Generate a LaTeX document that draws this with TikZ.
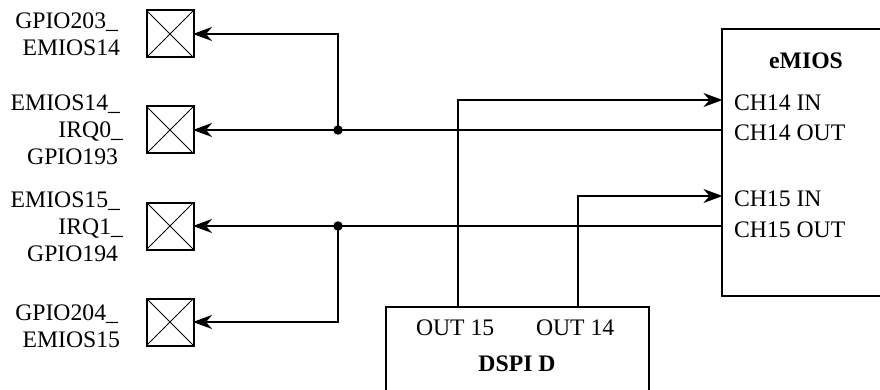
\documentclass[tikz,border=0pt]{standalone}
\usepackage{fontspec}
\setmainfont{Liberation Serif}
\usetikzlibrary{arrows.meta}
\tikzset{
  x=1pt,y=-1pt,
  lbl/.style={inner sep=0pt,outer sep=0pt,font=\fontsize{23.7}{27}\selectfont},
  pinlbl/.style={lbl,align=right,anchor=base east},
  txt/.style={lbl,anchor=base west},
  head/.style={lbl,anchor=base,font=\fontsize{23.7}{27}\selectfont\bfseries},
  pad/.style={draw,line width=2pt,minimum size=47pt,inner sep=0pt,outer sep=0pt,
    path picture={\draw[line width=1pt] (path picture bounding box.north west)--(path picture bounding box.south east)
      (path picture bounding box.north east)--(path picture bounding box.south west);}},
  block/.style={draw,line width=2pt,inner sep=0pt,outer sep=0pt},
  conn/.style={line width=2pt},
  arr/.style={conn,-{Stealth[length=19pt,width=14pt,inset=6pt]},shorten >=-0.5pt},
  dot/.style={circle,fill=black,draw=none,minimum size=9.5pt,inner sep=0pt,outer sep=0pt}
}
\begin{document}
\begin{tikzpicture}
\clip (0,0) rectangle (880,390);
\node[pad] (p1) at (170,34) {};
\node[pad] (p2) at (170,130) {};
\node[pad] (p3) at (170,226) {};
\node[pad] (p4) at (170,322) {};
\node[block,minimum width=186pt,minimum height=267pt] (emios) at (815,162.5) {};
\node[block,minimum width=263pt,minimum height=120pt] (dspi) at (517.5,367) {};
\node[dot] (j1) at (338,130) {};
\node[dot] (j2) at (338,226) {};
\coordinate (i14) at (722,100);
\coordinate (i15) at (722,196);
\coordinate (o15) at (458,307);
\coordinate (o14) at (578,307);
\draw[conn] (emios.west |- j1) -- (j1.center);
\draw[conn] (emios.west |- j2) -- (j2.center);
\draw[arr] (j1.center) -- (p2.east);
\draw[arr] (j2.center) -- (p3.east);
\draw[arr] (j1.center) -- (j1 |- p1) -- (p1.east);
\draw[arr] (j2.center) -- (j2 |- p4) -- (p4.east);
\draw[arr] (o15) -- (o15 |- i14) -- (i14);
\draw[arr] (o14) -- (o14 |- i15) -- (i15);
\node[pinlbl] (l1) at (120,56) {GPIO203\_\kern2pt\null\\EMIOS14};
\node[pinlbl] (l2) at (123,165) {EMIOS14\_\kern3pt\null\\IRQ0\_\\GPIO193\kern5pt\null};
\node[pinlbl] (l3) at (123,261) {EMIOS15\_\kern3pt\null\\IRQ1\_\\GPIO194\kern5pt\null};
\node[pinlbl] (l4) at (120,347) {GPIO204\_\kern2pt\null\\EMIOS15};
\node[head] (t1) at (806,69) {eMIOS};
\node[txt] (t2) at (734,111) {CH14 IN};
\node[txt] (t3) at (734,141) {CH14 OUT};
\node[txt] (t4) at (734,207) {CH15 IN};
\node[txt] (t5) at (734,237) {CH15 OUT};
\node[txt] (t6) at (416,335) {OUT 15};
\node[txt] (t7) at (536,335) {OUT 14};
\node[head] (t8) at (517,371) {DSPI D};
\end{tikzpicture}
\end{document}
